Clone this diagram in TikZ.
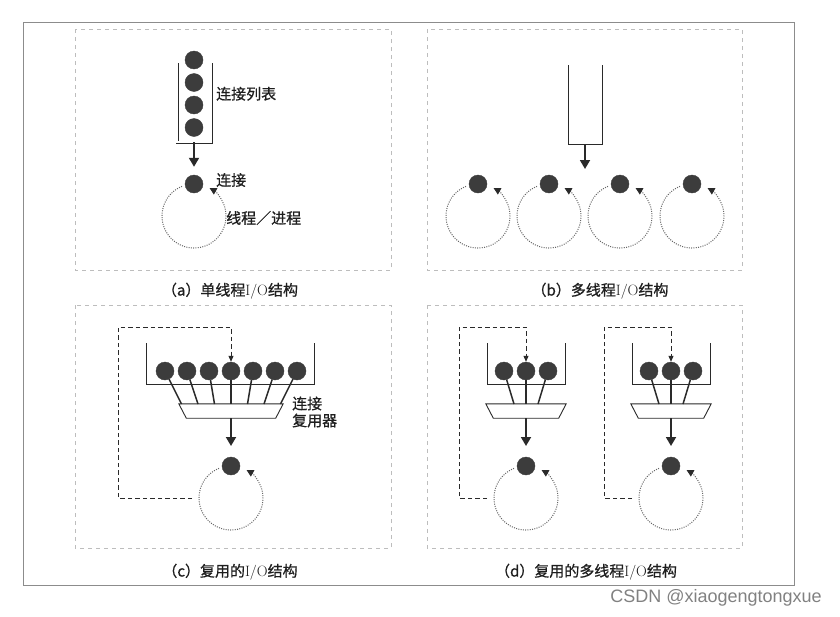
\documentclass[tikz,border=0pt]{standalone}
\usepackage{fontspec}
\newfontfamily\cjkfont[FakeBold=0.8]{Noto Sans CJK SC}
\newfontfamily\marquefont{Liberation Sans}
\usepackage{tikz}
\tikzset{font={\fontsize{15pt}{17}\selectfont}}
\usetikzlibrary{
	calc,
	arrows.meta,
	positioning
	}
\definecolor{boule}{HTML}{3C3C3C}
\definecolor{trait}{HTML}{2A2A2A}
\definecolor{pointille}{HTML}{666666}
\definecolor{cadre}{HTML}{BDBDBD}
\definecolor{bord}{HTML}{8C8C8C}
\definecolor{texte}{HTML}{1E1E1E}
\tikzstyle{conn-std}=[draw=boule,fill=boule,circle,inner sep=0pt,minimum size=18pt]
\tikzstyle{panneau-std}=[draw=cadre,line width=0.9pt,dash pattern=on 4pt off 4pt]
\tikzstyle{tube-std}=[draw=trait,line width=0.9pt]
\tikzstyle{fleche-std}=[draw=trait,line width=1.8pt,-{Triangle[length=9pt,width=10pt]}]
\tikzstyle{tige-std}=[draw=trait,line width=1.5pt]
\tikzstyle{mux-std}=[rectangle,inner sep=0pt,minimum height=14pt]
\tikzstyle{boucle-std}=[draw=pointille,line width=1pt,dash pattern=on 1pt off 1.3pt,-{Triangle[length=7pt,width=7pt,color=trait]}]
\tikzstyle{retour-std}=[draw=trait,line width=1pt,dash pattern=on 4.5pt off 3pt,-{Triangle[length=6pt,width=5pt]}]
\tikzstyle{legende-std}=[text=texte,inner sep=0pt]
\newcommand{\zh}[1]{{\cjkfont #1}}
% boucle pointillee sous une connexion
\newcommand{\boucle}[1]{\draw[boucle-std] ($(#1)+(0,32)$) ++(-112:32) arc[start angle=-112,end angle=-421,radius=32];}
% trapeze du multiplexeur autour du noeud #1
\newcommand{\trapeze}[1]{\draw[draw=trait,fill=white,line width=0.9pt] (#1.north west) -- (#1.north east) -- ($(#1.south east)+(-7.5,0)$) -- ($(#1.south west)+(7.5,0)$) -- cycle;}

\begin{document}
\begin{tikzpicture}[x=1pt,y=-1pt]
            \useasboundingbox (0,0) rectangle (840,616);
            \draw[bord,line width=1pt] (23,22) rectangle (794,585);
            \draw[panneau-std] (75,29) rectangle (391,270);
            \draw[panneau-std] (427,29) rectangle (742,270);
            \draw[panneau-std] (75,305) rectangle (391,548);
            \draw[panneau-std] (427,305) rectangle (742,548);
            %
            % (a)
            \draw[tube-std,double,double distance=1.8pt,line width=0.6pt] (177,63) -- (177,142) -- (211,142) -- (211,63);
            \node[conn-std] (liste-1) at (194,60) {};
            \node[conn-std] (liste-2) at (194,82.5) {};
            \node[conn-std] (liste-3) at (194,105) {};
            \node[conn-std] (liste-4) at (194,127.5) {};
            \coordinate (tube-a) at (194,142);
            \node[conn-std] (conn-a) at (194,184) {};
            \draw[fleche-std, shorten >=8pt] (tube-a) -- (conn-a);
            \boucle{conn-a}
            \node[legende-std, right=22pt] at ($(liste-2)!{0.5}!(liste-3)$) {\zh{连接列表}};
            \node[legende-std, right=22pt] at ($(conn-a)+(0,-4)$) {\zh{连接}};
            \node[legende-std, right] at ($(conn-a)+(32,34)$) {\zh{线程／进程}};
            \node[legende-std] (leg-a) at (230,291) {\zh{（a）单线程}I/O\zh{结构}};
            %
            % (b)
            \draw[tube-std] (568,65) -- (568,144) -- (602,144) -- (602,65);
            \coordinate (tube-b) at (585,144);
            \coordinate (fin-b) at (585,169);
            \draw[fleche-std] (tube-b) -- (fin-b);
            \foreach \x [count=\i] in {478,549,620,692} {
                \node[conn-std] (conn-b-\i) at (\x,184) {};
                \boucle{conn-b-\i}
            }
            \node[legende-std] (leg-b) at (600,291) {\zh{（b）多线程}I/O\zh{结构}};
            %
            % (c)
            \draw[tube-std] (146,343) -- (146,384) -- (314,384) -- (314,343);
            \node[mux-std, minimum width=104pt] (mux-c) at (231,411) {};
            \trapeze{mux-c}
            \foreach \i in {0,...,6} {
                \node[conn-std] (conn-c-\i) at ({231+22*(\i-3)},371) {};
                \draw[tige-std] (conn-c-\i) -- ($(mux-c.center)+({16.5*(\i-3)},-7)$);
            }
            \coordinate (fin-c) at (231,446);
            \draw[fleche-std] (mux-c) -- (fin-c);
            \node[conn-std] (conn-c) at (231,466) {};
            \boucle{conn-c}
            \coordinate (depart-c) at ($(conn-c)+(-39,32)$);
            \coordinate (coin-c) at (118,327);
            \draw[retour-std] (depart-c) -| (coin-c) -| (conn-c-3);
            \node[legende-std, align=left, anchor=west] (lib-mux) at (292,412) {\zh{连接}\\\zh{复用器}};
            \node[legende-std] (leg-c) at (230,572) {\zh{（c）复用的}I/O\zh{结构}};
            %
            % (d)
            \foreach \cx/\nom in {526/g,671/d} {
                \draw[tube-std] (\cx-39,343) -- (\cx-39,384) -- (\cx+39,384) -- (\cx+39,343);
                \node[mux-std, minimum width=80pt] (mux-\nom) at (\cx,411) {};
                \trapeze{mux-\nom}
                \foreach \i in {0,1,2} {
                    \node[conn-std] (conn-\nom-\i) at ({\cx+22*(\i-1)},371) {};
                    \draw[tige-std] (conn-\nom-\i) -- ($(mux-\nom.center)+({12*(\i-1)},-7)$);
                }
                \coordinate (fin-\nom) at (\cx,446);
                \draw[fleche-std] (mux-\nom) -- (fin-\nom);
                \node[conn-std] (conn-\nom) at (\cx,466) {};
                \boucle{conn-\nom}
                \coordinate (depart-\nom) at ($(conn-\nom)+(-39,32)$);
                \coordinate (coin-\nom) at (\cx-67,327);
                \draw[retour-std] (depart-\nom) -| (coin-\nom) -| (conn-\nom-1);
            }
            \node[legende-std] (leg-d) at (586,572) {\zh{（d）复用的多线程}I/O\zh{结构}};
            %
            \node[text=bord!110, font={\marquefont\fontsize{18pt}{20}\selectfont}] (marque) at (716,598) {CSDN @xiaogengtongxue};
        \end{tikzpicture}
\end{document}
